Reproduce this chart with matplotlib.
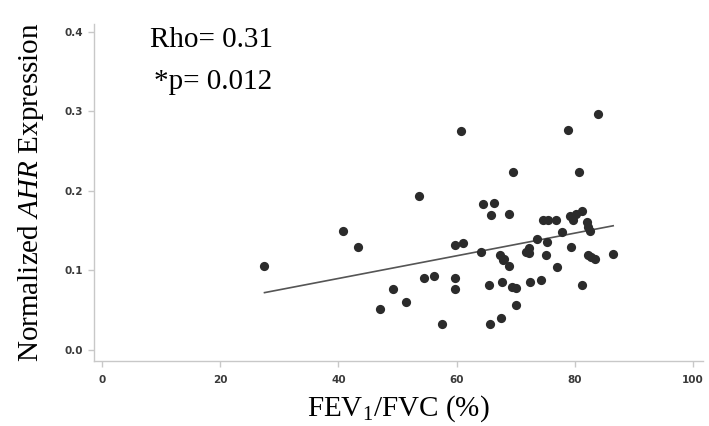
import matplotlib
matplotlib.use('Agg')
from matplotlib import pyplot as plt
import numpy as np

# FEV1/FVC (%) against normalized AHR expression, one point per subject
fev_fvc = [27.5, 40.8, 43.4, 47.0, 49.2, 51.4, 53.7, 54.5, 56.1, 57.6,
           59.7, 59.8, 59.8, 61.1, 60.7, 64.1, 64.4, 66.3, 65.9, 68.9,
           65.5, 65.6, 67.6, 67.7, 67.4, 67.8, 68.1, 68.9, 69.3, 70.0,
           70.0, 69.6, 71.7, 72.2, 72.2, 72.4, 73.6, 74.3, 74.6, 75.4,
           75.1, 75.3, 76.9, 77.0, 77.9, 78.8, 79.2, 79.7, 80.2, 81.3,
           82.0, 82.2, 82.6, 79.4, 80.7, 81.3, 82.2, 82.8, 83.5, 84.0,
           86.5]
ahr = [0.106, 0.149, 0.129, 0.052, 0.076, 0.060, 0.194, 0.091, 0.093, 0.032,
       0.090, 0.077, 0.132, 0.134, 0.276, 0.123, 0.184, 0.185, 0.170, 0.171,
       0.082, 0.033, 0.040, 0.085, 0.119, 0.113, 0.114, 0.105, 0.079, 0.078,
       0.056, 0.224, 0.123, 0.128, 0.122, 0.086, 0.140, 0.088, 0.164, 0.164,
       0.119, 0.136, 0.164, 0.104, 0.148, 0.277, 0.168, 0.164, 0.171, 0.175,
       0.161, 0.155, 0.150, 0.130, 0.224, 0.081, 0.119, 0.117, 0.114, 0.297,
       0.120]

# least squares line
fit_intercept = 0.0328
fit_slope = 0.001426

rho_text = 'Rho= 0.31'
p_text = '*p= 0.012'

xticks = [0, 20, 40, 60, 80, 100]
yticks = [0.0, 0.1, 0.2, 0.3, 0.4]

serif = 'Liberation Serif'
plt.rcParams['mathtext.fontset'] = 'custom'
plt.rcParams['mathtext.rm'] = serif
plt.rcParams['mathtext.it'] = serif + ':italic'

fig = plt.figure(figsize=(7.09, 4.26), dpi=100)
ax = fig.add_axes([94 / 709, 1 - 361 / 426, (703 - 94) / 709, (361 - 24) / 426])

ax.scatter(fev_fvc, ahr, s=44, color='#2b2b2b', linewidths=0, zorder=3)

xs = np.array([min(fev_fvc), max(fev_fvc)])
ax.plot(xs, fit_intercept + fit_slope * xs, color='#555555', lw=1.2, zorder=2)

ax.set_xlim(-1.35, 101.7)
ax.set_ylim(-0.014, 0.41)

for s in ['top', 'right']:
    ax.spines[s].set_visible(False)
for s in ['left', 'bottom']:
    ax.spines[s].set_color('#c8c8c8')
    ax.spines[s].set_linewidth(1.0)

tick_font = {'family': 'DejaVu Sans', 'weight': 'bold', 'size': 7.5}
ax.set_xticks(xticks)
ax.set_xticklabels([str(t) for t in xticks], fontdict=tick_font, color='#3a3a3a')
ax.set_yticks(yticks)
ax.set_yticklabels(['%.1f' % t for t in yticks], fontdict=tick_font, color='#3a3a3a')
ax.tick_params(axis='x', length=4, width=1, color='#c8c8c8', pad=6)
ax.tick_params(axis='y', length=4, width=1, color='#c8c8c8', pad=4)

ax.set_xlabel(r'FEV$_\mathrm{1}$/FVC (%)', family=serif, fontsize=21, labelpad=6)
ax.set_ylabel(r'Normalized $\mathit{AHR}$ Expression', family=serif, fontsize=21, labelpad=13)

fig.text(150 / 709, 1 - 40 / 426, rho_text, family=serif, fontsize=21, va='center')
fig.text(154 / 709, 1 - 82 / 426, p_text, family=serif, fontsize=21, va='center')

fig.savefig('out.png', dpi=100)
